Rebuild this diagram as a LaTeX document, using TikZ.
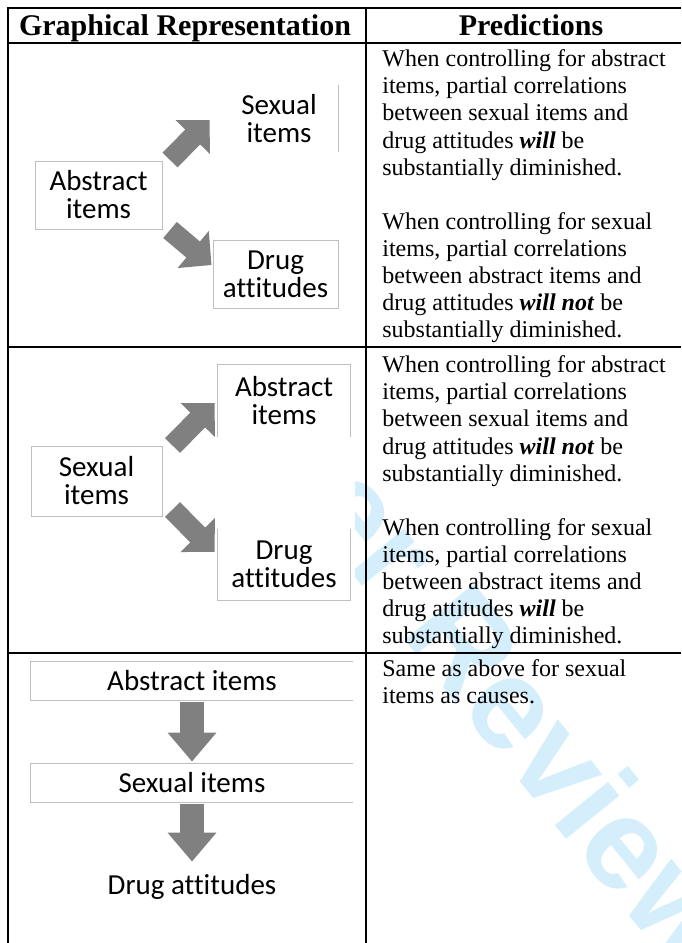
\documentclass[tikz,border=0pt]{standalone}
\usepackage{fontspec}
\setmainfont{Liberation Serif}
\newfontfamily\diafont{Carlito}[Ligatures=NoCommon]
\newfontfamily\wmfont{Liberation Sans}
\usepackage{tikz}
\usetikzlibrary{arrows.meta}
\definecolor{boxgray}{HTML}{BFBFBF}
\definecolor{arrowgray}{HTML}{808080}
\definecolor{wmblue}{RGB}{212,238,251}
\tikzstyle{box}=[inner sep=0pt, align=center, font=\diafont\fontsize{14.5}{14}\selectfont]
\tikzstyle{fullbox}=[box, draw=boxgray, line width=0.5pt]
\tikzstyle{edge}=[draw=boxgray, line width=0.5pt]
\tikzstyle{bigarrow}=[draw=arrowgray, line width=10.5pt, -{Triangle[length=12pt,width=23.5pt]}]
\tikzstyle{hdr}=[inner sep=0pt, anchor=base, font=\bfseries\fontsize{15}{18}\selectfont]
\tikzstyle{pred}=[anchor=north west, inner sep=0pt, align=left, font=\fontsize{12}{13.55}\selectfont]
\tikzstyle{rule}=[line width=1pt]

\begin{document}
\begin{tikzpicture}[x=0.5pt, y=-0.5pt]
    \useasboundingbox (0,0) rectangle (681,943);
    % watermark
    \begin{scope}
        \clip (355,8) rectangle (681,943);
        \node[inner sep=0pt, anchor=base west, rotate=-51, text=wmblue,
            font=\wmfont\bfseries\fontsize{65}{65}\selectfont] (wm) at (45,195) {For Peer Review};
    \end{scope}
    % table
    \draw[rule] (681,8) -- (8,8) -- (8,943);
    \draw[rule] (8,43) -- (681,43);
    \draw[rule] (8,347) -- (681,347);
    \draw[rule] (8,652.5) -- (681,652.5);
    \draw[rule] (366,8) -- (366,943);
    \node[hdr] (h1) at (185,35) {Graphical Representation};
    \node[hdr] (h2) at (531,35) {Predictions};
    % row 1
    \node[fullbox, minimum width=63.5pt, minimum height=34pt] (abs1) at (98.5,195) {Abstract\\items};
    \node[box, minimum width=59pt, minimum height=33.5pt] (sx1) at (279,118.5) {Sexual\\items};
    \node[fullbox, minimum width=62.5pt, minimum height=34pt] (drg1) at (275.5,274) {Drug\\attitudes};
    \draw[edge] (sx1.north east) -- (sx1.south east);
    \draw[bigarrow] ([shift={(7.5,-0.5)}]abs1.north east) -- ([shift={(-10,1.5)}]sx1.west);
    \draw[bigarrow] ([shift={(7.5,0.5)}]abs1.south east) -- ([shift={(-1,-9)}]drg1.west);
    \node[pred] (p1) at (382,49.4) {When controlling for abstract\\items, partial correlations\\between sexual items and\\drug attitudes \textbf{\textit{will}} be\\substantially diminished.\\[13.55pt]When controlling for sexual\\items, partial correlations\\between abstract items and\\drug attitudes \textbf{\textit{will not}} be\\substantially diminished.};
    % row 2
    \node[fullbox, minimum width=65.5pt, minimum height=35pt] (sx2) at (96.5,481) {Sexual\\items};
    \node[box, minimum width=66pt, minimum height=36pt] (abs2) at (284,401) {Abstract\\items};
    \node[box, minimum width=66pt, minimum height=35.5pt] (drg2) at (284,564.5) {Drug\\attitudes};
    \draw[edge] (abs2.south west) -- (abs2.north west) -- (abs2.north east) -- (abs2.south east);
    \draw[edge] (drg2.north west) -- (drg2.south west) -- (drg2.south east) -- (drg2.north east);
    \draw[bigarrow] ([shift={(10,0)}]sx2.north east) -- ([shift={(-3,2)}]abs2.west);
    \draw[bigarrow] ([shift={(10,-7)}]sx2.south east) -- ([shift={(-3,-12.5)}]drg2.west);
    \node[pred] (p2) at (382,355.4) {When controlling for abstract\\items, partial correlations\\between sexual items and\\drug attitudes \textbf{\textit{will not}} be\\substantially diminished.\\[13.55pt]When controlling for sexual\\items, partial correlations\\between abstract items and\\drug attitudes \textbf{\textit{will}} be\\substantially diminished.};
    % row 3
    \node[box, minimum width=161pt, minimum height=19pt] (abs3) at (192,681) {Abstract items};
    \node[box, minimum width=161pt, minimum height=19pt] (sx3) at (192,783) {Sexual items};
    \node[box, minimum width=161pt, minimum height=19pt] (drg3) at (192,887) {Drug attitudes};
    \draw[edge] (abs3.north east) -- (abs3.north west) -- (abs3.south west) -- (abs3.south east);
    \draw[edge] (sx3.north east) -- (sx3.north west) -- (sx3.south west) -- (sx3.south east);
    \draw[bigarrow, line width=12pt, -{Triangle[length=14.5pt,width=23.5pt]}, shorten <=1pt, shorten >=1pt] (abs3.south) -- (sx3.north);
    \draw[bigarrow, line width=12pt, -{Triangle[length=14.5pt,width=23.5pt]}, shorten <=1pt, shorten >=3pt] (sx3.south) -- (drg3.north);
    \node[pred] (p3) at (382,659.4) {Same as above for sexual\\items as causes.};
\end{tikzpicture}
\end{document}
